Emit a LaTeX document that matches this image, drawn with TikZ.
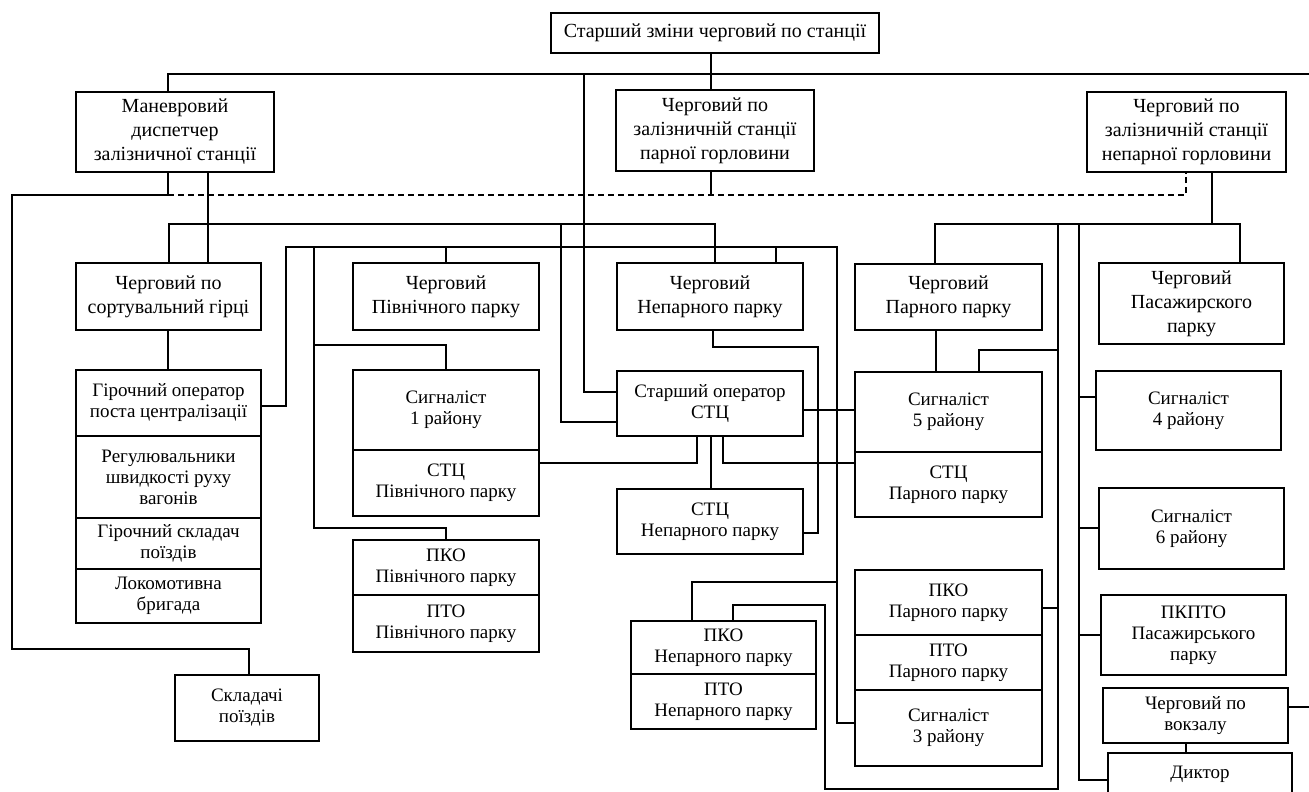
\documentclass[tikz,border=0pt]{standalone}
\usepackage{fontspec}
\setmainfont{Liberation Serif}
\usetikzlibrary{positioning}
\tikzset{
  box/.style={draw, line width=.6pt, inner sep=0pt, align=center, font=\fontsize{10}{12}\selectfont},
  sbox/.style={box, font=\fontsize{9.5}{10.5}\selectfont},
  area/.style n args={4}{at={({(#1+#3)/2},{(#2+#4)/2})},
    minimum width={(#3-#1)*.5pt}, minimum height={(#4-#2)*.5pt}},
}

\begin{document}
\begin{tikzpicture}[x=.5pt, y=-.5pt, line width=.6pt]
\useasboundingbox (0,0) rectangle (1309,791);

    % Head of the shift and the three duty officers.
    \node[box, area={551}{13}{879}{53}] (chief) {Старший зміни черговий по станції};
    \node[box, area={76}{92}{274}{172}] (shunt) {Маневровий\\диспетчер\\залізничної станції};
    \node[box, area={616}{90}{814}{171}] (evenneck) {Черговий по\\залізничній станції\\парної горловини};
    \node[box, area={1087}{92}{1286}{172}] (oddneck) {Черговий по\\залізничній станції\\непарної горловини};

    % Hump yard.
    \node[box, area={76}{263}{261}{330}] (hump) {Черговий по\\сортувальний гірці};
    \node[sbox, area={76}{370}{261}{436}] (humpop) {Гірочний оператор\\поста централізації};
    \node[sbox, area={76}{436}{261}{518}] (regul) {Регулювальники\\швидкості руху\\вагонів};
    \node[sbox, area={76}{518}{261}{569}] (humpsk) {Гірочний складач\\поїздів};
    \node[sbox, area={76}{569}{261}{623}] (loco) {Локомотивна\\бригада};
    \node[sbox, area={175}{675}{319}{741}] (skl) {Складачі\\поїздів};

    % North park.
    \node[box, area={353}{263}{539}{330}] (northduty) {Черговий\\Північного парку};
    \node[sbox, area={353}{370}{539}{450}] (sig1) {Сигналіст\\1 району};
    \node[sbox, area={353}{450}{539}{516}] (stcn) {СТЦ\\Північного парку};
    \node[sbox, area={353}{540}{539}{595}] (pkon) {ПКО\\Північного парку};
    \node[sbox, area={353}{595}{539}{652}] (pton) {ПТО\\Північного парку};

    % Odd park.
    \node[box, area={617}{263}{803}{330}] (oddduty) {Черговий\\Непарного парку};
    \node[sbox, area={617}{371}{803}{436}] (stcop) {Старший оператор\\СТЦ};
    \node[sbox, area={617}{489}{803}{554}] (stco) {СТЦ\\Непарного парку};
    \node[sbox, area={631}{621}{816}{674}] (pkoo) {ПКО\\Непарного парку};
    \node[sbox, area={631}{674}{816}{729}] (ptoo) {ПТО\\Непарного парку};

    % Even park.
    \node[box, area={855}{264}{1042}{330}] (evenduty) {Черговий\\Парного парку};
    \node[sbox, area={855}{372}{1042}{452}] (sig5) {Сигналіст\\5 району};
    \node[sbox, area={855}{452}{1042}{517}] (stce) {СТЦ\\Парного парку};
    \node[sbox, area={855}{570}{1042}{635}] (pkoe) {ПКО\\Парного парку};
    \node[sbox, area={855}{635}{1042}{690}] (ptoe) {ПТО\\Парного парку};
    \node[sbox, area={855}{690}{1042}{766}] (sig3) {Сигналіст\\3 району};

    % Passenger park.
    \node[box, area={1099}{263}{1284}{344}] (passduty) {Черговий\\Пасажирского\\парку};
    \node[sbox, area={1096}{371}{1281}{450}] (sig4) {Сигналіст\\4 району};
    \node[sbox, area={1099}{488}{1284}{569}] (sig6) {Сигналіст\\6 району};
    \node[sbox, area={1101}{595}{1286}{675}] (pkpto) {ПКПТО\\Пасажирського\\парку};
    \node[sbox, area={1103}{688}{1288}{743}] (vokzal) {Черговий по\\вокзалу};
    \node[sbox, area={1108}{753}{1292}{795}] (diktor) {Диктор};

    % Free ends on the bus lines.
    \coordinate (edgeT) at (1309,74);
    \coordinate (edgeV) at (1309,707);
    \coordinate (jT) at (584,74);
    \coordinate (jD) at (168,195);
    \coordinate (jE) at (711,195);
    \coordinate (jA) at (561,224);
    \coordinate (jR0) at (1212,224);
    \coordinate (jR1) at (1058,224);
    \coordinate (jR2) at (1079,224);
    \coordinate (jP) at (1058,350);
    \coordinate (jS) at (1058,608);
    \coordinate (jB1) at (314,247);
    \coordinate (jB2) at (446,247);
    \coordinate (jB3) at (776,247);
    \coordinate (jN) at (314,345);
    \coordinate (jQ) at (837,582);

    % Links of the head of the shift.
    \draw (chief.south -| 711,0) -- (evenneck.north -| 711,0);
    \draw (shunt.north -| 168,0) |- (edgeT);
    \draw (jT) |- (stcop.west |- 0,392);
    \draw (evenneck.south -| 711,0) -- (jE);

    % Links of the shunting dispatcher.
    \draw (shunt.south -| 168,0) |- (12,195) -- (12,649) -| (skl.north -| 249,0);
    \draw[dash pattern=on 3pt off 2pt] (jD) -| (oddneck.south -| 1186,0);
    \draw (shunt.south -| 208,0) -- (hump.north -| 208,0);
    \draw (hump.north -| 169,0) -- (169,224) -| (oddduty.north -| 715,0);
    \draw (jA) |- (stcop.west |- 0,422);
    \draw (hump.south -| 168,0) -- (humpop.north -| 168,0);

    % Links of the odd neck duty officer.
    \draw (oddneck.south -| 1212,0) -- (jR0);
    \draw (evenduty.north -| 935,0) -- (935,224) -| (passduty.north -| 1240,0);
    \draw (jR1) -- (1058,789) -| (825,605) -| (pkoo.north -| 733,0);
    \draw (jP) -| (sig5.north -| 979,0);
    \draw (pkoe.east |- 0,608) -- (jS);
    \draw (jR2) |- (diktor.west |- 0,780);
    \foreach \n/\y in {sig4/397, sig6/528, pkpto/635}
        \draw (\n.west |- 0,\y) -- (jR2 |- 0,\y);
    \draw (vokzal.east |- 0,707) -- (edgeV);
    \draw (vokzal.south -| 1186,0) -- (diktor.north -| 1186,0);
    \draw (evenduty.south -| 936,0) -- (sig5.north -| 936,0);

    % Links of the hump operator bus.
    \draw (humpop.east |- 0,406) -| (286,247) -- (837,247) |- (sig3.west |- 0,723);
    \draw (jB1) |- (446,528) -- (pkon.north -| 446,0);
    \draw (jN) -| (sig1.north -| 446,0);
    \draw (jB2) -- (northduty.north -| 446,0);
    \draw (jB3) -- (oddduty.north -| 776,0);
    \draw (jQ) -| (pkoo.north -| 692,0);

    % Links of the senior operator.
    \draw (stcop.east |- 0,410) -- (sig5.west |- 0,410);
    \draw (oddduty.south -| 713,0) |- (818,347) |- (stco.east |- 0,533);
    \draw (stcop.south -| 697,0) |- (stcn.east |- 0,463);
    \draw (stcop.south -| 723,0) |- (stce.west |- 0,463);
    \draw (stcop.south -| 711,0) -- (stco.north -| 711,0);
\end{tikzpicture}
\end{document}
